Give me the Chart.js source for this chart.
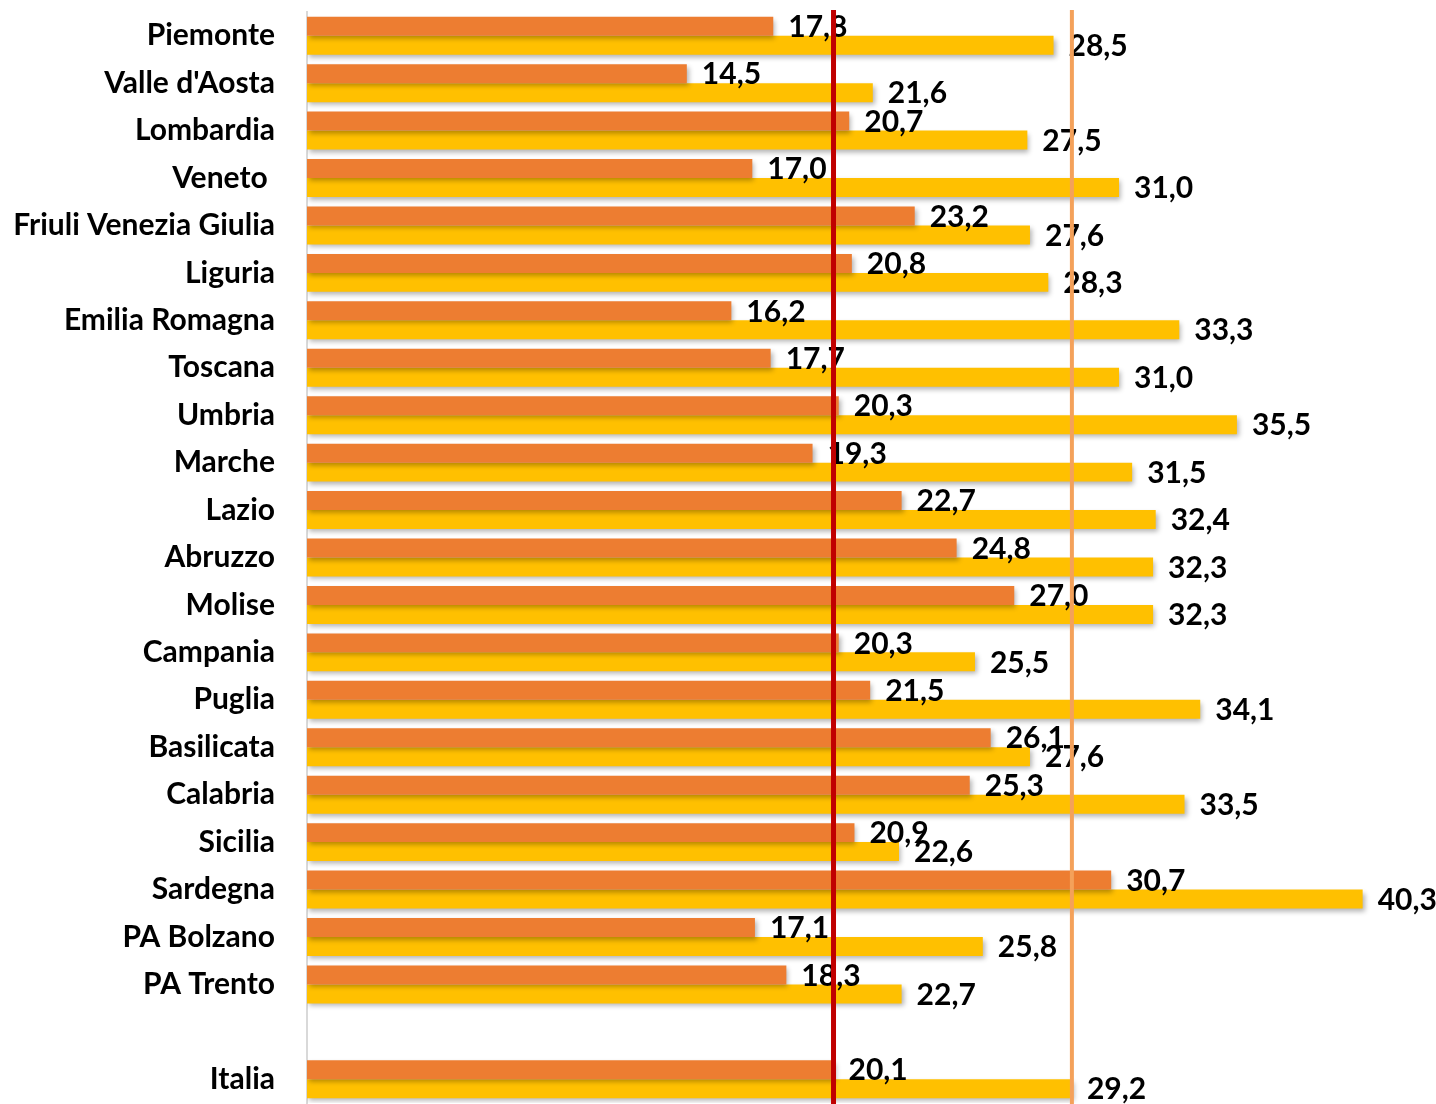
<!DOCTYPE html>
<html>
<head>
<meta charset="utf-8">
<script src="https://cdn.jsdelivr.net/npm/chart.js@4.4.1/dist/chart.umd.min.js"></script>
<style>
  html, body { margin: 0; padding: 0; background: #fff; }
  #wrap { width: 1436px; height: 1104px; }
</style>
</head>
<body>
<div id="wrap"><canvas id="myChart"></canvas></div>
<script>
// Categories (blank row before Italia as in the original)
const regions = ["Piemonte", "Valle d'Aosta", "Lombardia", "Veneto ", "Friuli Venezia Giulia", "Liguria",
  "Emilia Romagna", "Toscana", "Umbria", "Marche", "Lazio", "Abruzzo", "Molise", "Campania", "Puglia",
  "Basilicata", "Calabria", "Sicilia", "Sardegna", "PA Bolzano", "PA Trento", "", "Italia"];

// Series values
const seriesA = [17.8, 14.5, 20.7, 17.0, 23.2, 20.8, 16.2, 17.7, 20.3, 19.3, 22.7, 24.8, 27.0, 20.3, 21.5,
  26.1, 25.3, 20.9, 30.7, 17.1, 18.3, null, 20.1];
const seriesB = [28.5, 21.6, 27.5, 31.0, 27.6, 28.3, 33.3, 31.0, 35.5, 31.5, 32.4, 32.3, 32.3, 25.5, 34.1,
  27.6, 33.5, 22.6, 40.3, 25.8, 22.7, null, 29.2];

// Reference lines (Italia values)
const refLines = [
  { value: 20.1, color: '#C00000', width: 5 },
  { value: 29.2, color: '#F4A15A', width: 4 }
];

const fontFamily = "Lato, 'Open Sans', sans-serif";

// shadow under the bars
const shadowPlugin = {
  id: 'barShadow',
  beforeDatasetDraw(chart) {
    const ctx = chart.ctx;
    ctx.save();
    ctx.shadowColor = 'rgba(0,0,0,0.3)';
    ctx.shadowBlur = 5;
    ctx.shadowOffsetX = 2;
    ctx.shadowOffsetY = 3;
  },
  afterDatasetDraw(chart) {
    chart.ctx.restore();
  }
};

// value labels + reference lines
const labelPlugin = {
  id: 'valueLabels',
  afterDatasetsDraw(chart) {
    const ctx = chart.ctx;
    ctx.save();
    ctx.font = "bold 30px " + fontFamily;
    ctx.fillStyle = '#000';
    ctx.textAlign = 'left';
    ctx.textBaseline = 'middle';
    chart.data.datasets.forEach((ds, i) => {
      chart.getDatasetMeta(i).data.forEach((bar, j) => {
        const v = ds.data[j];
        if (v == null) return;
        ctx.fillText(v.toFixed(1).replace('.', ','), bar.x + 15, bar.y + 1);
      });
    });
    const xs = chart.scales.x;
    refLines.forEach(l => {
      const px = xs.getPixelForValue(l.value);
      ctx.beginPath();
      ctx.strokeStyle = l.color;
      ctx.lineWidth = l.width;
      ctx.moveTo(px, 10);
      ctx.lineTo(px, chart.height);
      ctx.stroke();
    });
    ctx.restore();
  }
};

new Chart(
  document.getElementById('myChart'),
  {
    type: 'bar',
    data: {
      labels: regions,
      datasets: [
        { label: 'A', data: seriesA, backgroundColor: '#ED7D31' },
        { label: 'B', data: seriesB, backgroundColor: '#FFC000' }
      ]
    },
    options: {
      indexAxis: 'y',
      responsive: true,
      maintainAspectRatio: false,
      animation: false,
      layout: { padding: { top: 12, bottom: 1, right: 0, left: 0 } },
      datasets: { bar: { categoryPercentage: 0.8, barPercentage: 1.0 } },
      plugins: { legend: { display: false }, tooltip: { enabled: false } },
      scales: {
        x: { display: false, min: 0, max: 43.1 },
        y: {
          afterFit(scale) {
            scale.width = 307;
            scale.paddingTop = 0;
            scale.paddingBottom = 0;
          },
          grid: { display: false },
          border: { display: true, color: '#D9D9D9', width: 2 },
          ticks: { color: '#000', padding: 24, font: { family: fontFamily, size: 30, weight: 'bold' } }
        }
      }
    },
    plugins: [shadowPlugin, labelPlugin]
  }
);
</script>
</body>
</html>
